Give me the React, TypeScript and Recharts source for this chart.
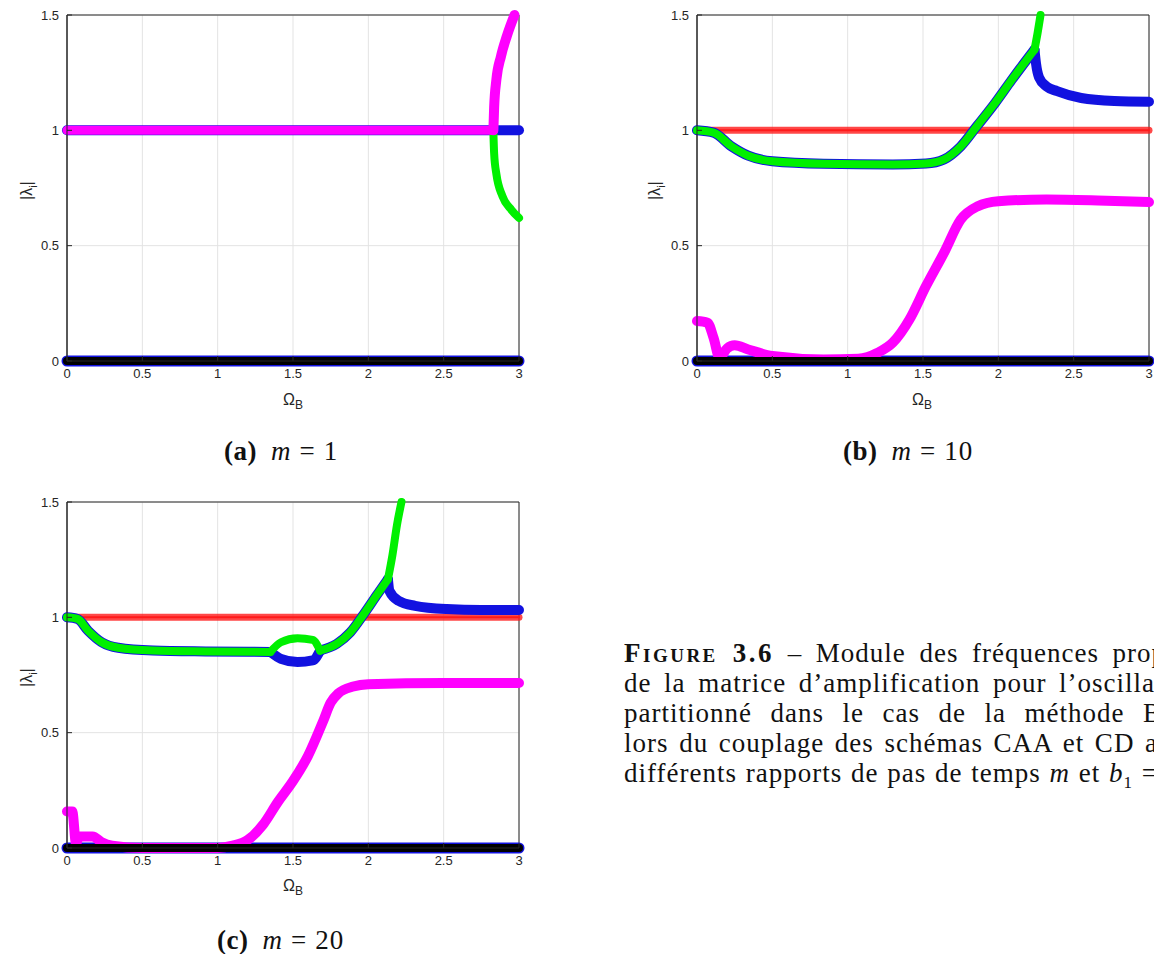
import React from 'react';
import { LineChart, Line, XAxis, YAxis, CartesianGrid, ReferenceArea } from 'recharts';

const xTicks = [0, 0.5, 1, 1.5, 2, 2.5, 3];
const yTicks = [0, 0.5, 1, 1.5];

// ---------- panel (a) m = 1 ----------
const aFullX = [0, 3];
const aZeroY = [0, 0];
const aOneY = [1, 1];
const aMagFlatX = [0, 2.83];
const aMagBranchX = [2.83, 2.835, 2.85, 2.88, 2.92, 2.97];
const aMagBranchY = [1.0, 1.1, 1.22, 1.32, 1.41, 1.5];
const aGreenX = [2.83, 2.835, 2.85, 2.89, 2.95, 3.0];
const aGreenY = [0.99, 0.9, 0.81, 0.715, 0.655, 0.62];

// ---------- panel (b) m = 10 ----------
const bCommonX = [0, 0.11, 0.23, 0.34, 0.5, 0.84, 1.3, 1.52, 1.64, 1.75, 1.86, 1.98, 2.09, 2.24];
const bCommonY = [1.0, 0.99, 0.93, 0.89, 0.866, 0.855, 0.852, 0.856, 0.874, 0.93, 1.02, 1.12, 1.22, 1.35];
const bGreenUpX = [2.24, 2.26, 2.28];
const bGreenUpY = [1.35, 1.42, 1.5];
const bBlueDownX = [2.24, 2.25, 2.27, 2.32, 2.39, 2.55, 2.77, 3.0];
const bBlueDownY = [1.35, 1.29, 1.23, 1.19, 1.17, 1.14, 1.127, 1.124];
const bMagX = [0, 0.07, 0.11, 0.15, 0.2, 0.25, 0.34, 0.5, 0.84, 1.07, 1.2, 1.3, 1.41, 1.52, 1.64, 1.75, 1.86, 2.0, 2.32, 2.66, 3.0];
const bMagY = [0.173, 0.166, 0.1, 0.014, 0.055, 0.068, 0.05, 0.022, 0.007, 0.01, 0.036, 0.08, 0.18, 0.325, 0.47, 0.613, 0.67, 0.693, 0.7, 0.696, 0.689];

// ---------- panel (c) m = 20 ----------
const cCommonX = [0, 0.07, 0.14, 0.23, 0.34, 0.57, 0.92, 1.35];
const cCommonY = [1.0, 0.993, 0.942, 0.892, 0.868, 0.856, 0.852, 0.85];
const cGreenLoopX = [1.35, 1.42, 1.53, 1.63, 1.68];
const cGreenLoopY = [0.85, 0.892, 0.909, 0.902, 0.856];
const cBlueLoopX = [1.35, 1.42, 1.53, 1.63, 1.68];
const cBlueLoopY = [0.85, 0.82, 0.806, 0.813, 0.856];
const cRiseX = [1.68, 1.79, 1.88, 1.97, 2.06, 2.13];
const cRiseY = [0.856, 0.885, 0.935, 1.014, 1.1, 1.165];
const cGreenUpX = [2.13, 2.16, 2.19, 2.22];
const cGreenUpY = [1.165, 1.27, 1.4, 1.5];
const cBlueDownX = [2.13, 2.14, 2.2, 2.31, 2.52, 2.75, 3.0];
const cBlueDownY = [1.165, 1.115, 1.072, 1.05, 1.036, 1.032, 1.032];
const cMagX = [0, 0.035, 0.06, 0.08, 0.17, 0.23, 0.3, 0.5, 1.0, 1.1, 1.2, 1.3, 1.4, 1.5, 1.6, 1.7, 1.75, 1.8, 1.9, 2.0, 2.5, 3.0];
const cMagY = [0.158, 0.158, 0.02, 0.05, 0.05, 0.025, 0.01, 0.0, 0.0, 0.01, 0.035, 0.1, 0.2, 0.29, 0.4, 0.55, 0.63, 0.67, 0.7, 0.71, 0.715, 0.715];

const RED = '#ff1a1a';
const BLUE = '#1212e0';
const GREEN = '#00f000';
const MAGENTA = '#ff00ff';
const BLACK = '#000000';

type S = { xs: number[]; ys: number[]; color: string; w: number; op?: number };

const pts = (xs: number[], ys: number[]) => xs.map((x, i) => ({ x, y: ys[i] }));

const panelA: S[] = [
  { xs: aFullX, ys: aZeroY, color: BLUE, w: 11 },
  { xs: aFullX, ys: aZeroY, color: BLACK, w: 8 },
  { xs: aFullX, ys: aOneY, color: RED, w: 7, op: 0.8 },
  { xs: aFullX, ys: aOneY, color: BLUE, w: 10 },
  { xs: aGreenX, ys: aGreenY, color: GREEN, w: 8 },
  { xs: aMagFlatX, ys: aOneY, color: MAGENTA, w: 9 },
  { xs: aMagBranchX, ys: aMagBranchY, color: MAGENTA, w: 10 },
];

const panelB: S[] = [
  { xs: aFullX, ys: aZeroY, color: BLUE, w: 11 },
  { xs: aFullX, ys: aOneY, color: RED, w: 7, op: 0.8 },
  { xs: aFullX, ys: aOneY, color: RED, w: 2, op: 1 },
  { xs: bMagX, ys: bMagY, color: MAGENTA, w: 10 },
  { xs: aFullX, ys: aZeroY, color: BLACK, w: 8 },
  { xs: bCommonX, ys: bCommonY, color: BLUE, w: 10 },
  { xs: bBlueDownX, ys: bBlueDownY, color: BLUE, w: 10 },
  { xs: bCommonX, ys: bCommonY, color: GREEN, w: 8 },
  { xs: bGreenUpX, ys: bGreenUpY, color: GREEN, w: 8 },
];

const panelC: S[] = [
  { xs: aFullX, ys: aZeroY, color: BLUE, w: 11 },
  { xs: aFullX, ys: aOneY, color: RED, w: 7, op: 0.8 },
  { xs: aFullX, ys: aOneY, color: RED, w: 2, op: 1 },
  { xs: cMagX, ys: cMagY, color: MAGENTA, w: 10 },
  { xs: aFullX, ys: aZeroY, color: BLACK, w: 8 },
  { xs: cCommonX, ys: cCommonY, color: BLUE, w: 10 },
  { xs: cBlueLoopX, ys: cBlueLoopY, color: BLUE, w: 10 },
  { xs: cRiseX, ys: cRiseY, color: BLUE, w: 10 },
  { xs: cBlueDownX, ys: cBlueDownY, color: BLUE, w: 10 },
  { xs: cCommonX, ys: cCommonY, color: GREEN, w: 8 },
  { xs: cGreenLoopX, ys: cGreenLoopY, color: GREEN, w: 8 },
  { xs: cRiseX, ys: cRiseY, color: GREEN, w: 8 },
  { xs: cGreenUpX, ys: cGreenUpY, color: GREEN, w: 8 },
];

const AX = '#262626';
const tickStyle = { fontSize: 13, fill: AX, fontFamily: 'Liberation Sans, Arial, sans-serif' };

function Panel({ left, top, series }: { left: number; top: number; series: S[] }) {
  return (
    <div style={{ position: 'absolute', left, top, width: 540, height: 420 }}>
      <LineChart width={540} height={420} margin={{ top: 15, right: 21, left: 0, bottom: 19 }}>
        <CartesianGrid stroke="#e3e3e3" strokeWidth={1} />
        <XAxis
          dataKey="x"
          type="number"
          domain={[0, 3]}
          ticks={xTicks}
          allowDuplicatedCategory={false}
          height={40}
          stroke={AX}
          tickLine={{ stroke: AX }}
          tickSize={-5}
          tickMargin={13}
          tick={tickStyle}
          interval={0}
        />
        <YAxis
          type="number"
          domain={[0, 1.5]}
          ticks={yTicks}
          width={67}
          stroke={AX}
          tickLine={{ stroke: AX }}
          tickSize={-5}
          tickMargin={13}
          tick={tickStyle}
          interval={0}
        />
        {series.map((s, i) => (
          <Line
            key={i}
            data={pts(s.xs, s.ys)}
            dataKey="y"
            type="monotone"
            stroke={s.color}
            strokeWidth={s.w}
            strokeOpacity={s.op ?? 1}
            strokeLinecap="round"
            strokeLinejoin="round"
            dot={false}
            activeDot={false}
            isAnimationActive={false}
          />
        ))}
        <ReferenceArea x1={0} x2={3} y1={0} y2={1.5} fill="none" stroke={AX} strokeWidth={1} ifOverflow="visible" />
      </LineChart>
    </div>
  );
}

const sans = 'Liberation Sans, Arial, sans-serif';
const serif = '"Liberation Serif", "DejaVu Serif", serif';

function XLabel({ cx, cy }: { cx: number; cy: number }) {
  return (
    <div style={{ position: 'absolute', left: cx - 20, top: cy - 11, width: 40, textAlign: 'center', fontFamily: sans, fontSize: 16, color: AX, lineHeight: '20px' }}>
      Ω<sub style={{ fontSize: 12 }}>B</sub>
    </div>
  );
}

function YLabel({ cx, cy }: { cx: number; cy: number }) {
  return (
    <div style={{ position: 'absolute', left: cx - 30, top: cy - 10, width: 60, textAlign: 'center', fontFamily: sans, fontSize: 16, color: AX, lineHeight: '20px', transform: 'rotate(-90deg)' }}>
      |λ<sub style={{ fontSize: 11 }}>i</sub>|
    </div>
  );
}

function SubCap({ left, cy, tag, m }: { left: number; cy: number; tag: string; m: string }) {
  return (
    <div style={{ position: 'absolute', left, top: cy - 12, fontFamily: serif, fontSize: 27, color: '#111', lineHeight: '24px', whiteSpace: 'nowrap' }}>
      <b style={{ letterSpacing: 0.5 }}>({tag})</b>
      <i style={{ marginLeft: 14 }}>m</i>
      <span style={{ marginLeft: 9 }}>=</span>
      <span style={{ marginLeft: 9, letterSpacing: 1 }}>{m}</span>
    </div>
  );
}

export default function App() {
  const lineStyle: React.CSSProperties = {
    position: 'absolute', left: 0, whiteSpace: 'nowrap', fontFamily: serif, fontSize: 27, color: '#111',
    lineHeight: '31px', letterSpacing: 1, textAlign: 'justify', textAlignLast: 'justify',
  };
  return (
    <div style={{ position: 'absolute', left: 0, top: 0, width: 1154, height: 954, background: '#fff', overflow: 'hidden' }}>
      <Panel left={0} top={0} series={panelA} />
      <Panel left={630} top={0} series={panelB} />
      <Panel left={0} top={487} series={panelC} />

      <XLabel cx={293} cy={401} />
      <XLabel cx={922} cy={401} />
      <XLabel cx={293} cy={887} />
      <YLabel cx={30} cy={188} />
      <YLabel cx={658} cy={188} />
      <YLabel cx={30} cy={675} />

      <SubCap left={224} cy={451} tag="a" m="1" />
      <SubCap left={843} cy={451} tag="b" m="10" />
      <SubCap left={217} cy={940} tag="c" m="20" />

      <div style={{ position: 'absolute', left: 624, top: 638, width: 530, height: 165, overflow: 'hidden' }}>
        <div style={{ ...lineStyle, top: 0, width: 542 }}>
          <b style={{ fontVariant: 'small-caps', letterSpacing: 2.5 }}>Figure 3.6</b> – Module des fréquences prop
        </div>
        <div style={{ ...lineStyle, top: 30, width: 531 }}>de la matrice d’amplification pour l’oscilla</div>
        <div style={{ ...lineStyle, top: 60, width: 538 }}>partitionné dans le cas de la méthode B</div>
        <div style={{ ...lineStyle, top: 90, width: 534 }}>lors du couplage des schémas CAA et CD a</div>
        <div style={{ ...lineStyle, top: 120, width: 534 }}>
          différents rapports de pas de temps <i>m</i> et <i>b</i><sub style={{ fontSize: 17 }}>1</sub> =
        </div>
      </div>
    </div>
  );
}
